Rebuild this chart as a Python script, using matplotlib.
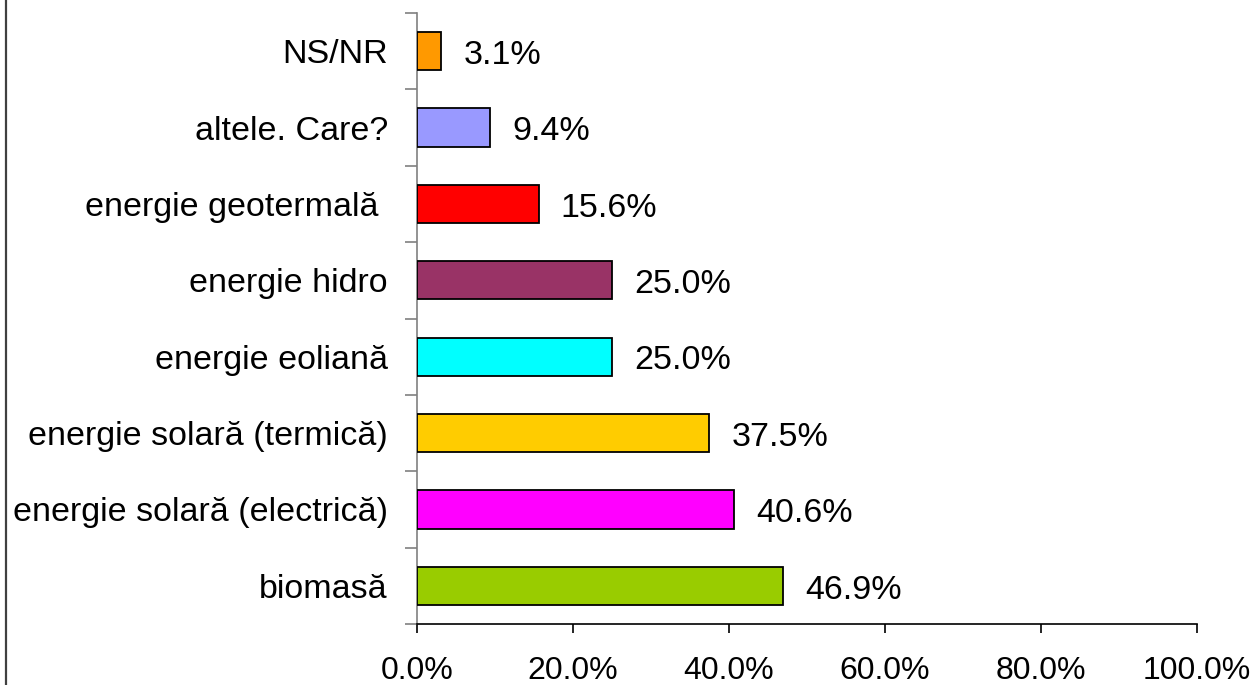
import numpy as np
import matplotlib.pyplot as plt
from matplotlib.lines import Line2D

plt.rcParams['font.family'] = ['Liberation Sans', 'DejaVu Sans']

categories = ['biomasă', 'energie solară (electrică)', 'energie solară (termică)',
              'energie eoliană', 'energie hidro', 'energie geotermală ',
              'altele. Care?', 'NS/NR']
values = [46.9, 40.6, 37.5, 25.0, 25.0, 15.6, 9.4, 3.1]
colors = ['#99CC00', '#FF00FF', '#FFCC00', '#00FFFF', '#993366', '#FF0000',
          '#9999FF', '#FF9900']
xticks = [0, 20, 40, 60, 80, 100]

fig = plt.figure(figsize=(12.54, 6.85), dpi=100)
ax = fig.add_axes([0.3325, 0.089, 0.622, 0.892])

y = np.arange(len(categories))
ax.barh(y, values, height=0.5, color=colors, edgecolor='black', linewidth=1.3, zorder=3)

for yi, v in zip(y, values):
    ax.annotate('%.1f%%' % v, (v, yi), xytext=(16, -3), textcoords='offset points',
                ha='left', va='center', fontsize=24.5)

ax.set_xlim(0, 100)
ax.set_ylim(-0.5, len(categories) - 0.5)
ax.set_xticks(xticks)
ax.set_xticklabels(['%.1f%%' % t for t in xticks], fontsize=23)
ax.tick_params(axis='x', direction='out', length=6.5, width=1.2, color='black', pad=16.5)

ax.set_yticks(y)
ax.set_yticklabels(categories, fontsize=24.5)
ax.set_yticks(np.arange(-0.5, len(categories)), minor=True)
ax.tick_params(axis='y', which='major', length=0, pad=21)
ax.tick_params(axis='y', which='minor', length=8.6, width=1.2, color='#808080')

for s in ['top', 'right']:
    ax.spines[s].set_visible(False)
ax.spines['left'].set_color('#808080')
ax.spines['left'].set_linewidth(1.2)
ax.spines['bottom'].set_color('black')
ax.spines['bottom'].set_linewidth(1.2)

fig.add_artist(Line2D([0.0045, 0.0045], [0, 1], transform=fig.transFigure,
                      color='#404040', linewidth=1.6))

fig.savefig('out.png', dpi=100)
